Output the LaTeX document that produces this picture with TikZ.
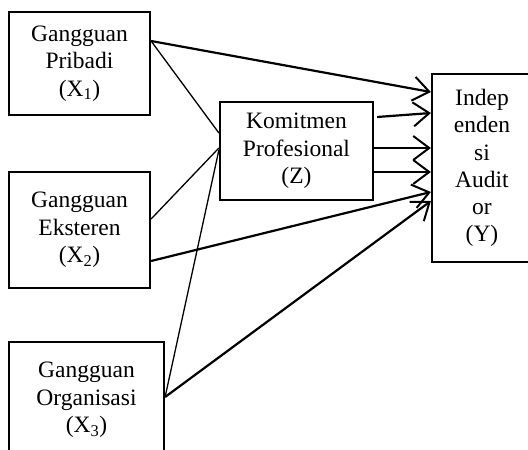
\documentclass[tikz,border=0pt]{standalone}
\usepackage{fontspec}
\setmainfont{Liberation Serif}
\usetikzlibrary{arrows.meta}

\begin{document}
\begin{tikzpicture}[x=1pt, y=-1pt,
    box/.style={draw, line width=2.2pt, inner sep=0pt, align=center, font=\fontsize{23.5}{27.3}\selectfont},
    arr/.style={line width=2.2pt, -{Straight Barb[length=16pt, width=24pt, line width=2pt]}},
    ln/.style={line width=1.3pt}]
    \useasboundingbox (0,0) rectangle (528,450);

    % Gangguan boxes
    \node[box, minimum width=141pt, minimum height=103pt] (x1) at (79.5,63.5) {Gangguan\\Pribadi\\(X\textsubscript{1})};
    \node[box, minimum width=141pt, minimum height=116pt] (x2) at (79.5,230) {Gangguan\\Eksteren\\(X\textsubscript{2})};
    \node[box, minimum width=155pt, minimum height=116pt] (x3) at (86.5,400) {Gangguan\\Organisasi\\(X\textsubscript{3})};

    % Komitmen and Independensi
    \node[box, minimum width=153pt, minimum height=98pt] (z) at (296.5,151) {Komitmen\\Profesional\\(Z)};
    \node[box, minimum width=100pt, minimum height=188pt] (y) at (482,168) {Indep\\enden\\si\\Audit\\or\\(Y)};

    % Lines to Z
    \draw[ln] ([yshift=22.5pt]x1.east) -- ([yshift=18pt]z.west);
    \draw[ln] ([yshift=11pt]x2.east) -- ([yshift=3pt]z.west);
    \draw[ln] ([yshift=3pt]x3.east) -- ([yshift=1pt]z.west);

    % Arrows to Y
    \draw[arr] ([yshift=22.5pt]x1.east) -- ([yshift=76pt]y.west);
    \draw[arr] ([xshift=3pt, yshift=34pt]z.east) -- ([yshift=55pt]y.west);
    \draw[arr] ([yshift=3pt]z.east) -- ([yshift=20pt]y.west);
    \draw[arr] ([yshift=-21pt]z.east) -- ([yshift=-4pt]y.west);
    \draw[arr] ([yshift=-31pt]x2.east) -- ([yshift=-24pt]y.west);
    \draw[arr] ([yshift=3pt]x3.east) -- ([yshift=-33pt]y.west);
\end{tikzpicture}
\end{document}
